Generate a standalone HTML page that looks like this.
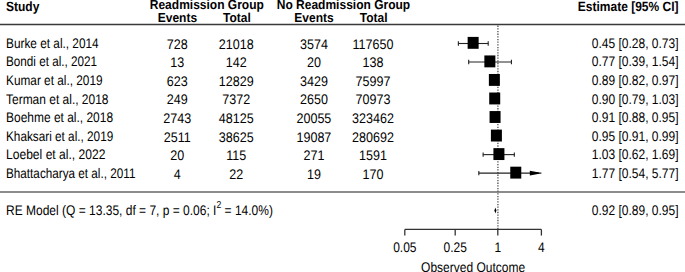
<!DOCTYPE html><html><head><meta charset="utf-8"><style>html,body{margin:0;padding:0;background:#fff;width:685px;height:272px;overflow:hidden}svg{display:block}text{font-family:"Liberation Sans",sans-serif;font-size:12px;fill:#000;text-rendering:geometricPrecision}.b{font-weight:bold}</style></head><body>
<svg width="685" height="272" viewBox="0 0 685 272">
<text class="b" transform="translate(6.00,10.50) scale(1.0,1.12)">Study</text>
<text class="b" transform="translate(206.80,8.90) scale(1.0,1.1)" text-anchor="middle">Readmission Group</text>
<text class="b" transform="translate(343.45,8.90) scale(1.0,1.1)" text-anchor="middle">No Readmission Group</text>
<text class="b" transform="translate(678.50,10.50) scale(1.0,1.12)" text-anchor="end">Estimate [95% CI]</text>
<text class="b" transform="translate(177.40,21.80) scale(1.0,1.08)" text-anchor="middle">Events</text>
<text class="b" transform="translate(236.90,21.80) scale(1.0,1.08)" text-anchor="middle">Total</text>
<text class="b" transform="translate(314.00,21.80) scale(1.0,1.08)" text-anchor="middle">Events</text>
<text class="b" transform="translate(373.60,21.80) scale(1.0,1.08)" text-anchor="middle">Total</text>
<line x1="0" y1="24.5" x2="685" y2="24.5" stroke="#3a3a3a" stroke-width="1.4"/>
<line x1="0" y1="192" x2="685" y2="192" stroke="#666" stroke-width="1.4"/>
<line x1="497.9" y1="25.6" x2="497.9" y2="229" stroke="#666" stroke-width="1.5" stroke-dasharray="1.3 1.361"/>
<text transform="translate(6.00,47.90) scale(0.985,1.16)">Burke et al., 2014</text>
<text transform="translate(177.30,48.75) scale(1.045,1.16)" text-anchor="middle">728</text>
<text transform="translate(236.30,48.75) scale(1.045,1.16)" text-anchor="middle">21018</text>
<text transform="translate(313.90,48.75) scale(1.045,1.16)" text-anchor="middle">3574</text>
<text transform="translate(373.00,48.75) scale(1.045,1.16)" text-anchor="middle">117650</text>
<text transform="translate(678.50,47.90) scale(1.0,1.16)" text-anchor="end">0.45 [0.28, 0.73]</text>
<line x1="458.37" y1="43.50" x2="488.20" y2="43.50" stroke="#222" stroke-width="1.1"/>
<line x1="458.37" y1="41.30" x2="458.37" y2="45.70" stroke="#222" stroke-width="1.1"/>
<line x1="488.20" y1="41.30" x2="488.20" y2="45.70" stroke="#222" stroke-width="1.1"/>
<rect x="467.64" y="36.90" width="11.0" height="11.9" fill="#000"/>
<text transform="translate(6.00,66.45) scale(0.9751,1.16)">Bondi et al., 2021</text>
<text transform="translate(177.30,67.30) scale(1.045,1.16)" text-anchor="middle">13</text>
<text transform="translate(236.30,67.30) scale(1.045,1.16)" text-anchor="middle">142</text>
<text transform="translate(313.90,67.30) scale(1.045,1.16)" text-anchor="middle">20</text>
<text transform="translate(373.00,67.30) scale(1.045,1.16)" text-anchor="middle">138</text>
<text transform="translate(678.50,66.45) scale(1.0,1.16)" text-anchor="end">0.77 [0.39, 1.54]</text>
<line x1="468.69" y1="62.02" x2="511.44" y2="62.02" stroke="#222" stroke-width="1.1"/>
<line x1="468.69" y1="59.82" x2="468.69" y2="64.22" stroke="#222" stroke-width="1.1"/>
<line x1="511.44" y1="59.82" x2="511.44" y2="64.22" stroke="#222" stroke-width="1.1"/>
<rect x="484.36" y="55.44" width="11.0" height="11.9" fill="#000"/>
<text transform="translate(6.00,85.00) scale(0.985,1.16)">Kumar et al., 2019</text>
<text transform="translate(177.30,85.85) scale(1.045,1.16)" text-anchor="middle">623</text>
<text transform="translate(236.30,85.85) scale(1.045,1.16)" text-anchor="middle">12829</text>
<text transform="translate(313.90,85.85) scale(1.045,1.16)" text-anchor="middle">3429</text>
<text transform="translate(373.00,85.85) scale(1.045,1.16)" text-anchor="middle">75997</text>
<text transform="translate(678.50,85.00) scale(1.0,1.16)" text-anchor="end">0.89 [0.82, 0.97]</text>
<line x1="491.82" y1="80.54" x2="497.05" y2="80.54" stroke="#222" stroke-width="1.1"/>
<line x1="491.82" y1="78.34" x2="491.82" y2="82.74" stroke="#222" stroke-width="1.1"/>
<line x1="497.05" y1="78.34" x2="497.05" y2="82.74" stroke="#222" stroke-width="1.1"/>
<rect x="488.87" y="73.98" width="11.0" height="11.9" fill="#000"/>
<text transform="translate(6.00,103.55) scale(0.9978,1.16)">Terman et al., 2018</text>
<text transform="translate(177.30,104.40) scale(1.045,1.16)" text-anchor="middle">249</text>
<text transform="translate(236.30,104.40) scale(1.045,1.16)" text-anchor="middle">7372</text>
<text transform="translate(313.90,104.40) scale(1.045,1.16)" text-anchor="middle">2650</text>
<text transform="translate(373.00,104.40) scale(1.045,1.16)" text-anchor="middle">70973</text>
<text transform="translate(678.50,103.55) scale(1.0,1.16)" text-anchor="end">0.90 [0.79, 1.03]</text>
<line x1="490.66" y1="99.06" x2="498.92" y2="99.06" stroke="#222" stroke-width="1.1"/>
<line x1="490.66" y1="96.86" x2="490.66" y2="101.26" stroke="#222" stroke-width="1.1"/>
<line x1="498.92" y1="96.86" x2="498.92" y2="101.26" stroke="#222" stroke-width="1.1"/>
<rect x="489.22" y="92.52" width="11.0" height="11.9" fill="#000"/>
<text transform="translate(6.00,122.10) scale(0.9968,1.16)">Boehme et al., 2018</text>
<text transform="translate(177.30,122.95) scale(1.045,1.16)" text-anchor="middle">2743</text>
<text transform="translate(236.30,122.95) scale(1.045,1.16)" text-anchor="middle">48125</text>
<text transform="translate(313.90,122.95) scale(1.045,1.16)" text-anchor="middle">20055</text>
<text transform="translate(373.00,122.95) scale(1.045,1.16)" text-anchor="middle">323462</text>
<text transform="translate(678.50,122.10) scale(1.0,1.16)" text-anchor="end">0.91 [0.88, 0.95]</text>
<line x1="494.02" y1="117.58" x2="496.40" y2="117.58" stroke="#222" stroke-width="1.1"/>
<line x1="494.02" y1="115.38" x2="494.02" y2="119.78" stroke="#222" stroke-width="1.1"/>
<line x1="496.40" y1="115.38" x2="496.40" y2="119.78" stroke="#222" stroke-width="1.1"/>
<rect x="489.56" y="111.06" width="11.0" height="11.9" fill="#000"/>
<text transform="translate(6.00,140.65) scale(0.9801,1.16)">Khaksari et al., 2019</text>
<text transform="translate(177.30,141.50) scale(1.045,1.16)" text-anchor="middle">2511</text>
<text transform="translate(236.30,141.50) scale(1.045,1.16)" text-anchor="middle">38625</text>
<text transform="translate(313.90,141.50) scale(1.045,1.16)" text-anchor="middle">19087</text>
<text transform="translate(373.00,141.50) scale(1.045,1.16)" text-anchor="middle">280692</text>
<text transform="translate(678.50,140.65) scale(1.0,1.16)" text-anchor="end">0.95 [0.91, 0.99]</text>
<line x1="495.06" y1="136.10" x2="497.69" y2="136.10" stroke="#222" stroke-width="1.1"/>
<line x1="495.06" y1="133.90" x2="495.06" y2="138.30" stroke="#222" stroke-width="1.1"/>
<line x1="497.69" y1="133.90" x2="497.69" y2="138.30" stroke="#222" stroke-width="1.1"/>
<rect x="490.90" y="129.60" width="11.0" height="11.9" fill="#000"/>
<text transform="translate(6.00,159.20) scale(1.0067,1.16)">Loebel et al., 2022</text>
<text transform="translate(177.30,160.05) scale(1.045,1.16)" text-anchor="middle">20</text>
<text transform="translate(236.30,160.05) scale(1.045,1.16)" text-anchor="middle">115</text>
<text transform="translate(313.90,160.05) scale(1.045,1.16)" text-anchor="middle">271</text>
<text transform="translate(373.00,160.05) scale(1.045,1.16)" text-anchor="middle">1591</text>
<text transform="translate(678.50,159.20) scale(1.0,1.16)" text-anchor="end">1.03 [0.62, 1.69]</text>
<line x1="483.12" y1="154.62" x2="514.33" y2="154.62" stroke="#222" stroke-width="1.1"/>
<line x1="483.12" y1="152.42" x2="483.12" y2="156.82" stroke="#222" stroke-width="1.1"/>
<line x1="514.33" y1="152.42" x2="514.33" y2="156.82" stroke="#222" stroke-width="1.1"/>
<rect x="493.42" y="148.14" width="11.0" height="11.9" fill="#000"/>
<text transform="translate(6.00,177.75) scale(0.9766,1.16)">Bhattacharya et al., 2011</text>
<text transform="translate(177.30,178.60) scale(1.045,1.16)" text-anchor="middle">4</text>
<text transform="translate(236.30,178.60) scale(1.045,1.16)" text-anchor="middle">22</text>
<text transform="translate(313.90,178.60) scale(1.045,1.16)" text-anchor="middle">19</text>
<text transform="translate(373.00,178.60) scale(1.045,1.16)" text-anchor="middle">170</text>
<text transform="translate(678.50,177.75) scale(1.0,1.16)" text-anchor="end">1.77 [0.54, 5.77]</text>
<line x1="478.82" y1="173.14" x2="541.40" y2="173.14" stroke="#222" stroke-width="1.1"/>
<line x1="478.82" y1="170.94" x2="478.82" y2="175.34" stroke="#222" stroke-width="1.1"/>
<path d="M529.80,170.74 L539.30,172.44 L539.30,173.84 L529.80,175.54 Z" fill="#000"/>
<rect x="510.27" y="166.68" width="11.0" height="11.9" fill="#000"/>
<text transform="translate(6.0,214.7) scale(1,1.16)">RE Model (Q = 13.35, df = 7, p = 0.06; I<tspan dy="-6.2" font-size="8.6">2</tspan><tspan dy="6.2"> = 14.0%)</tspan></text>
<text transform="translate(678.50,214.70) scale(1.0,1.16)" text-anchor="end">0.92 [0.89, 0.95]</text>
<polygon points="494.37,210.4 495.40,207.4 496.40,210.4 495.40,213.4" fill="#000"/>
<line x1="404.8" y1="229.4" x2="541.4" y2="229.4" stroke="#333" stroke-width="1.3"/>
<line x1="404.8" y1="229.4" x2="404.8" y2="235.6" stroke="#333" stroke-width="1.3"/>
<text transform="translate(404.80,252.30) scale(1.0,1.16)" text-anchor="middle">0.05</text>
<line x1="455.2" y1="229.4" x2="455.2" y2="235.6" stroke="#333" stroke-width="1.3"/>
<text transform="translate(455.20,252.30) scale(1.0,1.16)" text-anchor="middle">0.25</text>
<line x1="497.8" y1="229.4" x2="497.8" y2="235.6" stroke="#333" stroke-width="1.3"/>
<text transform="translate(497.80,252.30) scale(1.0,1.16)" text-anchor="middle">1</text>
<line x1="541.4" y1="229.4" x2="541.4" y2="235.6" stroke="#333" stroke-width="1.3"/>
<text transform="translate(541.40,252.30) scale(1.0,1.16)" text-anchor="middle">4</text>
<text transform="translate(473.10,272.00) scale(1.0,1.16)" text-anchor="middle">Observed Outcome</text>
</svg></body></html>
